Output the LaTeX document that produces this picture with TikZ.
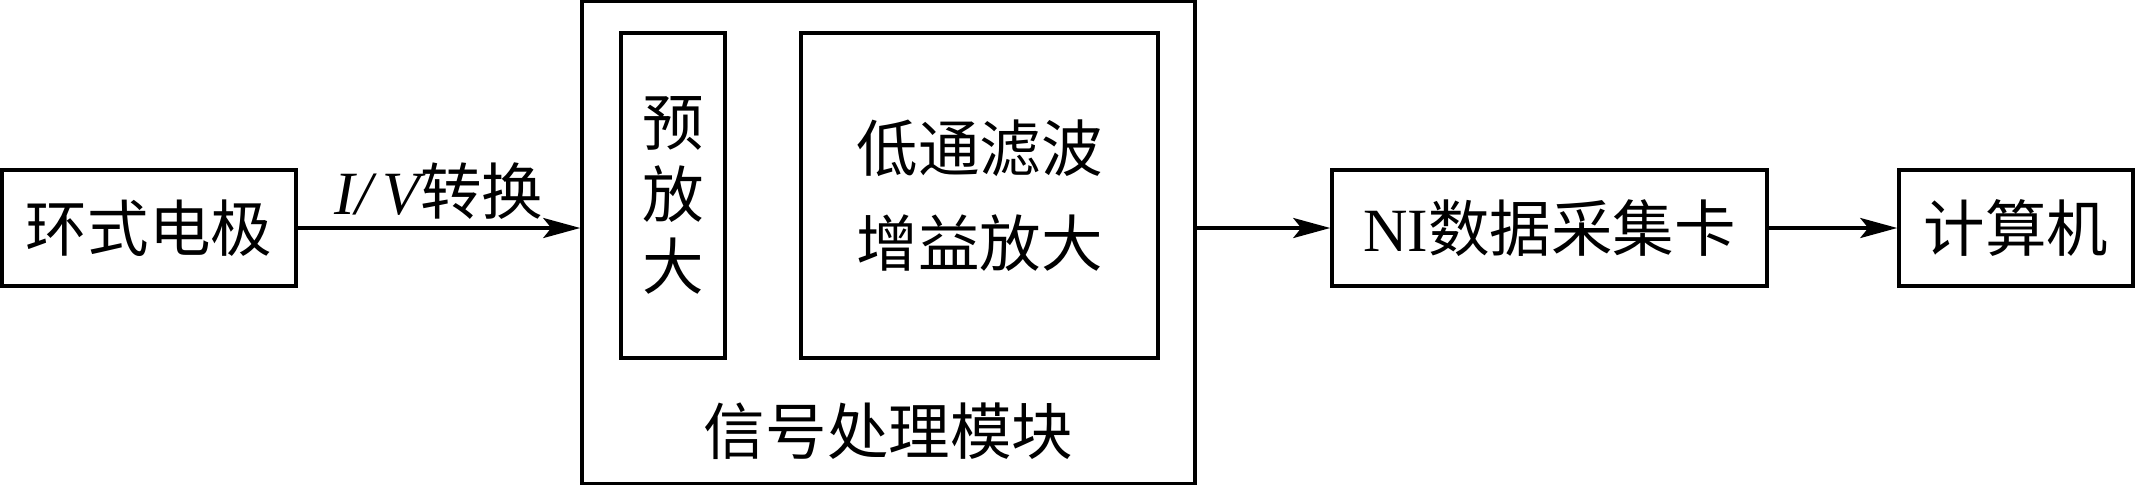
\documentclass[tikz,border=0pt]{standalone}
\usepackage{fontspec}
\setmainfont{Liberation Serif}
\newfontfamily\cjk{Noto Sans CJK SC}
\usetikzlibrary{positioning,arrows.meta}

\begin{document}
\begin{tikzpicture}[
  block/.style={rectangle,draw=black,line width=1pt,inner sep=0pt,font=\cjk\fontsize{17.5}{27}\selectfont},
  lbl/.style={font=\cjk\fontsize{17.5}{27}\selectfont,inner sep=2pt},
  >={Stealth[length=0.37cm,width=0.2cm,inset=0.08cm]}, line width=1pt
]
\useasboundingbox (0,0) rectangle (21.36,4.87);
\def\midy{2.59}
\def\bh{1.16}

% Signal chain
\node[block,minimum width=2.94cm,minimum height=\bh cm] (elec) at (1.49,\midy) {环式电极};
\node[block,minimum width=6.13cm,minimum height=4.82cm] (sig) at (8.885,2.445) {};
\node[block,minimum width=4.35cm,minimum height=\bh cm] (ni) at (15.495,\midy) {{\rmfamily NI}数据采集卡};
\node[block,minimum width=2.34cm,minimum height=\bh cm] (pc) at (20.16,\midy) {计算机};

% Inside the signal module
\node[block,minimum width=1.04cm,minimum height=3.25cm,align=center,
  font=\cjk\fontsize{17.5}{20.5}\selectfont] (pre) at (6.73,2.915) {预\\放\\大};
\node[block,minimum width=3.57cm,minimum height=3.25cm,align=center] (lpf) at (9.795,2.915)
  {低通滤波\\增益放大};
\node[lbl,above=0.17cm] (sigtitle) at (sig.south) {信号处理模块};

% Connections
\draw[->] (elec.east) -- node[lbl,above] (conv) {{\rmfamily\itshape I/\,V}转换} (elec.east -| sig.west);
\draw[->] (ni.west -| sig.east) -- (ni.west);
\draw[->] (ni) -- (pc);
\end{tikzpicture}
\end{document}
